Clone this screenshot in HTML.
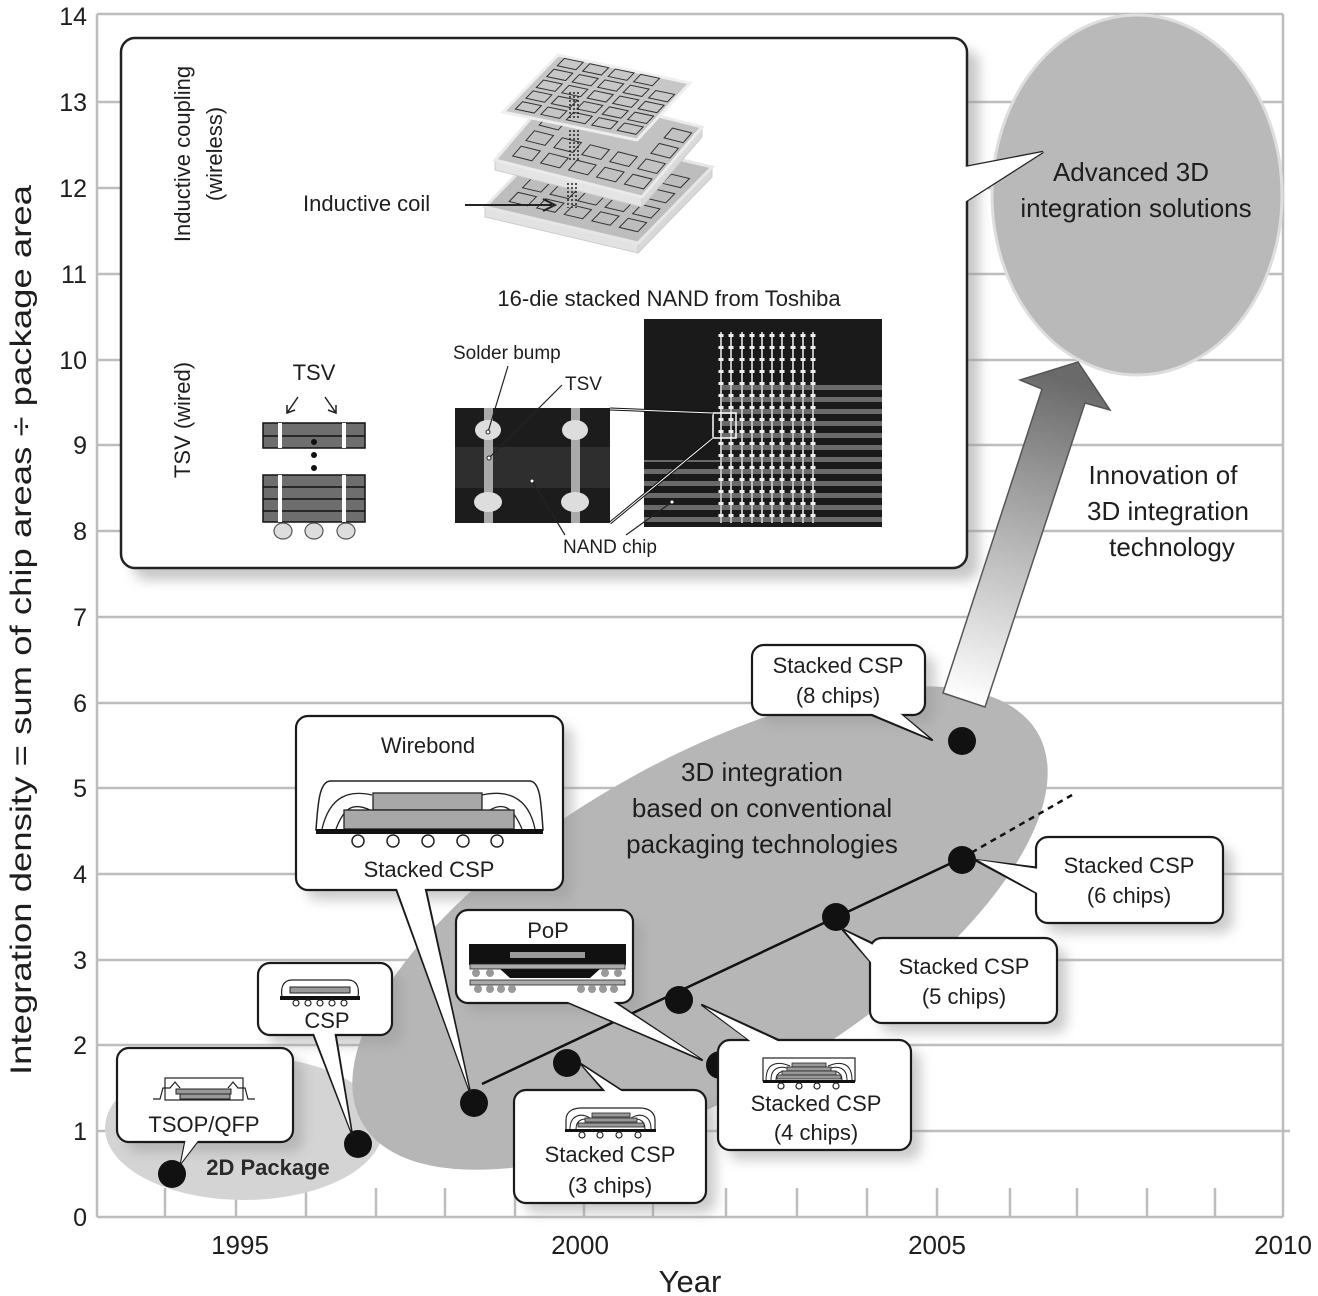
<!DOCTYPE html>
<html><head><meta charset="utf-8"><style>
html,body{margin:0;padding:0;background:#fff}
svg{display:block}
text{font-family:"Liberation Sans",Arial,sans-serif;fill:#1e1e1e}
</style></head><body>
<svg width="1318" height="1296" viewBox="0 0 1318 1296" xmlns="http://www.w3.org/2000/svg">
<defs>
<filter id="sh" x="-20%" y="-20%" width="140%" height="140%"><feGaussianBlur stdDeviation="6"/></filter>
<linearGradient id="ag" gradientUnits="userSpaceOnUse" x1="964" y1="700" x2="1065" y2="380">
<stop offset="0" stop-color="#fff"/><stop offset="1" stop-color="#6a6a6a"/></linearGradient>
</defs>

<!-- grid -->
<g stroke="#bdbdbd" stroke-width="2.5" fill="none">
<line x1="97" y1="14" x2="1283" y2="14"/>
<line x1="97" y1="102" x2="1283" y2="102"/>
<line x1="97" y1="188" x2="1283" y2="188"/>
<line x1="97" y1="274" x2="1283" y2="274"/>
<line x1="97" y1="360" x2="1283" y2="360"/>
<line x1="97" y1="445" x2="1283" y2="445"/>
<line x1="97" y1="531" x2="1283" y2="531"/>
<line x1="97" y1="617" x2="1283" y2="617"/>
<line x1="97" y1="703" x2="1283" y2="703"/>
<line x1="97" y1="788" x2="1283" y2="788"/>
<line x1="97" y1="874" x2="1283" y2="874"/>
<line x1="97" y1="960" x2="1283" y2="960"/>
<line x1="97" y1="1045" x2="1283" y2="1045"/>
<line x1="97" y1="1131" x2="1290" y2="1131"/>
<line x1="97" y1="1217" x2="1283" y2="1217"/>
<line x1="97" y1="14" x2="97" y2="1217"/>
<line x1="1283" y1="14" x2="1283" y2="1217"/>
<path d="M165 1188V1217M236 1188V1217M306 1188V1217M376 1188V1217M445 1188V1217M515 1188V1217M584 1188V1217M653 1188V1217M726 1188V1217M797 1188V1217M867 1188V1217M937 1188V1217M1010 1188V1217M1077 1188V1217M1147 1188V1217M1215 1188V1217"/>
</g>

<!-- axis labels -->
<g font-size="25" text-anchor="end">
<text x="87" y="25">14</text><text x="87" y="111">13</text><text x="87" y="197">12</text>
<text x="87" y="283">11</text><text x="87" y="369">10</text><text x="87" y="454">9</text>
<text x="87" y="540">8</text><text x="87" y="626">7</text><text x="87" y="712">6</text>
<text x="87" y="797">5</text><text x="87" y="883">4</text><text x="87" y="969">3</text>
<text x="87" y="1054">2</text><text x="87" y="1140">1</text><text x="87" y="1226">0</text>
</g>
<g font-size="26" text-anchor="middle">
<text x="240" y="1254">1995</text><text x="580" y="1254">2000</text>
<text x="937" y="1254">2005</text><text x="1283" y="1254">2010</text>
</g>
<text x="690" y="1292" font-size="31" text-anchor="middle">Year</text>
<text transform="translate(31,630) rotate(-90)" font-size="30" text-anchor="middle" textLength="890" lengthAdjust="spacingAndGlyphs">Integration density = sum of chip areas ÷ package area</text>

<!-- 2D package ellipse -->
<ellipse cx="244" cy="1128" rx="139" ry="72" fill="#d4d4d4"/>
<!-- big 3D ellipse -->
<ellipse cx="700" cy="928" rx="390" ry="165" transform="rotate(-30 700 928)" fill="#b6b6b6"/>

<!-- Advanced ellipse -->
<ellipse cx="1137" cy="195" rx="145" ry="180" fill="#b9b9b9" stroke="#dedede" stroke-width="3"/>
<text x="1131" y="181" font-size="26" text-anchor="middle">Advanced 3D</text>
<text x="1136" y="217" font-size="26" text-anchor="middle">integration solutions</text>

<!-- big arrow -->
<polygon points="943,693 1042,389 1020,380 1078,362 1110,410 1085,403 985,707" fill="url(#ag)" stroke="#555" stroke-width="1.5"/>
<g font-size="26" text-anchor="middle">
<text x="1163" y="484">Innovation of</text>
<text x="1168" y="520">3D integration</text>
<text x="1172" y="556">technology</text>
</g>

<!-- inset box -->
<rect x="133" y="50" width="846" height="530" rx="14" fill="#9a9a9a" opacity="0.55" filter="url(#sh)"/>
<polygon points="960,168 1043,152 960,205" fill="#fff" stroke="#222" stroke-width="2.5"/>
<rect x="121" y="38" width="846" height="530" rx="14" fill="#fff" stroke="#222" stroke-width="2.5"/>
<polygon points="960,168 1043,152 960,205" fill="#fff"/>

<g font-size="22">
<text transform="translate(190,154) rotate(-90)" text-anchor="middle">Inductive coupling</text>
<text transform="translate(222,154) rotate(-90)" text-anchor="middle">(wireless)</text>
<text transform="translate(190,420) rotate(-90)" text-anchor="middle">TSV (wired)</text>
</g>

<!-- inductive plates -->
<g>
<polygon points="485,207 638,243 638,253 485,217" fill="#e2e2e2" stroke="#ccc"/>
<polygon points="638,243 712,167 712,177 638,253" fill="#d8d8d8" stroke="#ccc"/>
<polygon points="485,207 559,131 712,167 638,243" fill="#bdbdbd" stroke="#e6e6e6" stroke-width="3"/>
<g transform="matrix(153,36,74,-76,485,207)" fill="none" stroke="#333">
<rect x="0.1" y="0.12" width="0.12" height="0.12" vector-effect="non-scaling-stroke"/><rect x="0.28" y="0.12" width="0.12" height="0.12" vector-effect="non-scaling-stroke"/><rect x="0.46" y="0.12" width="0.12" height="0.12" vector-effect="non-scaling-stroke"/><rect x="0.64" y="0.12" width="0.12" height="0.12" vector-effect="non-scaling-stroke"/><rect x="0.82" y="0.12" width="0.12" height="0.12" vector-effect="non-scaling-stroke"/>
<rect x="0.1" y="0.3" width="0.12" height="0.12" vector-effect="non-scaling-stroke"/><rect x="0.28" y="0.3" width="0.12" height="0.12" vector-effect="non-scaling-stroke"/><rect x="0.46" y="0.3" width="0.12" height="0.12" vector-effect="non-scaling-stroke"/><rect x="0.64" y="0.3" width="0.12" height="0.12" vector-effect="non-scaling-stroke"/><rect x="0.82" y="0.3" width="0.12" height="0.12" vector-effect="non-scaling-stroke"/>
<rect x="0.82" y="0.5" width="0.12" height="0.12" vector-effect="non-scaling-stroke"/><rect x="0.82" y="0.7" width="0.12" height="0.12" vector-effect="non-scaling-stroke"/>
</g>
<polygon points="495,160 642,197 642,207 495,170" fill="#e4e4e4" stroke="#ccc"/>
<polygon points="642,197 702,127 702,137 642,207" fill="#dadada" stroke="#ccc"/>
<polygon points="495,160 555,90 702,127 642,197" fill="#c2c2c2" stroke="#ebebeb" stroke-width="3"/>
<g transform="matrix(147,37,60,-70,495,160)" fill="none" stroke="#333">
<rect x="0.08" y="0.1" width="0.13" height="0.14" vector-effect="non-scaling-stroke"/><rect x="0.27" y="0.1" width="0.13" height="0.14" vector-effect="non-scaling-stroke"/><rect x="0.46" y="0.1" width="0.13" height="0.14" vector-effect="non-scaling-stroke"/><rect x="0.65" y="0.1" width="0.13" height="0.14" vector-effect="non-scaling-stroke"/><rect x="0.84" y="0.1" width="0.13" height="0.14" vector-effect="non-scaling-stroke"/>
<rect x="0.08" y="0.32" width="0.13" height="0.14" vector-effect="non-scaling-stroke"/><rect x="0.27" y="0.32" width="0.13" height="0.14" vector-effect="non-scaling-stroke"/><rect x="0.46" y="0.32" width="0.13" height="0.14" vector-effect="non-scaling-stroke"/><rect x="0.65" y="0.32" width="0.13" height="0.14" vector-effect="non-scaling-stroke"/><rect x="0.84" y="0.32" width="0.13" height="0.14" vector-effect="non-scaling-stroke"/>
<rect x="0.08" y="0.54" width="0.13" height="0.14" vector-effect="non-scaling-stroke"/><rect x="0.84" y="0.54" width="0.13" height="0.14" vector-effect="non-scaling-stroke"/><rect x="0.84" y="0.76" width="0.13" height="0.14" vector-effect="non-scaling-stroke"/>
</g>
<polygon points="503,112 558,55 690,83 637,140" fill="#c6c6c6" stroke="#efefef" stroke-width="3" opacity="0.97"/>
<g transform="matrix(134,28,55,-57,503,112)" fill="none" stroke="#333">
<rect x="0.06" y="0.08" width="0.14" height="0.13" vector-effect="non-scaling-stroke"/><rect x="0.25" y="0.08" width="0.14" height="0.13" vector-effect="non-scaling-stroke"/><rect x="0.44" y="0.08" width="0.14" height="0.13" vector-effect="non-scaling-stroke"/><rect x="0.63" y="0.08" width="0.14" height="0.13" vector-effect="non-scaling-stroke"/><rect x="0.82" y="0.08" width="0.14" height="0.13" vector-effect="non-scaling-stroke"/>
<rect x="0.06" y="0.27" width="0.14" height="0.13" vector-effect="non-scaling-stroke"/><rect x="0.25" y="0.27" width="0.14" height="0.13" vector-effect="non-scaling-stroke"/><rect x="0.44" y="0.27" width="0.14" height="0.13" vector-effect="non-scaling-stroke"/><rect x="0.63" y="0.27" width="0.14" height="0.13" vector-effect="non-scaling-stroke"/><rect x="0.82" y="0.27" width="0.14" height="0.13" vector-effect="non-scaling-stroke"/>
<rect x="0.06" y="0.46" width="0.14" height="0.13" vector-effect="non-scaling-stroke"/><rect x="0.25" y="0.46" width="0.14" height="0.13" vector-effect="non-scaling-stroke"/><rect x="0.44" y="0.46" width="0.14" height="0.13" vector-effect="non-scaling-stroke"/><rect x="0.63" y="0.46" width="0.14" height="0.13" vector-effect="non-scaling-stroke"/><rect x="0.82" y="0.46" width="0.14" height="0.13" vector-effect="non-scaling-stroke"/>
<rect x="0.06" y="0.65" width="0.14" height="0.13" vector-effect="non-scaling-stroke"/><rect x="0.25" y="0.65" width="0.14" height="0.13" vector-effect="non-scaling-stroke"/><rect x="0.44" y="0.65" width="0.14" height="0.13" vector-effect="non-scaling-stroke"/><rect x="0.63" y="0.65" width="0.14" height="0.13" vector-effect="non-scaling-stroke"/><rect x="0.82" y="0.65" width="0.14" height="0.13" vector-effect="non-scaling-stroke"/>
<rect x="0.06" y="0.84" width="0.14" height="0.13" vector-effect="non-scaling-stroke"/><rect x="0.25" y="0.84" width="0.14" height="0.13" vector-effect="non-scaling-stroke"/><rect x="0.44" y="0.84" width="0.14" height="0.13" vector-effect="non-scaling-stroke"/><rect x="0.63" y="0.84" width="0.14" height="0.13" vector-effect="non-scaling-stroke"/>
</g>
<g stroke="#222" stroke-width="1.5" stroke-dasharray="2,2">
<line x1="570" y1="92" x2="570" y2="120"/><line x1="574" y1="92" x2="574" y2="120"/><line x1="578" y1="92" x2="578" y2="120"/>
<line x1="570" y1="130" x2="570" y2="162"/><line x1="574" y1="130" x2="574" y2="162"/><line x1="578" y1="130" x2="578" y2="162"/>
<line x1="568" y1="183" x2="568" y2="208"/><line x1="572" y1="183" x2="572" y2="208"/><line x1="576" y1="183" x2="576" y2="208"/>
</g>
</g>
<text x="303" y="211" font-size="22">Inductive coil</text>
<line x1="465" y1="205" x2="552" y2="205" stroke="#222" stroke-width="2"/>
<path d="M543 199 L555 205 L543 211" fill="none" stroke="#222" stroke-width="2"/>

<!-- TSV diagram -->
<text x="314" y="380" font-size="22" text-anchor="middle">TSV</text>
<g stroke="#222" stroke-width="1.5" fill="none">
<path d="M298 397 L287 413 M287 405 L287 413 L295 410"/>
<path d="M325 397 L336 413 M336 405 L336 413 L328 410"/>
</g>
<rect x="263" y="423" width="102" height="25" fill="#6e6e6e" stroke="#111" stroke-width="1.5"/>
<line x1="263" y1="436" x2="365" y2="436" stroke="#111" stroke-width="1.5"/>
<rect x="263" y="475" width="102" height="47" fill="#6e6e6e" stroke="#111" stroke-width="1.5"/>
<line x1="263" y1="487" x2="365" y2="487" stroke="#111" stroke-width="1.5"/>
<line x1="263" y1="499" x2="365" y2="499" stroke="#111" stroke-width="1.5"/>
<line x1="263" y1="511" x2="365" y2="511" stroke="#111" stroke-width="1.5"/>
<rect x="278" y="423" width="4" height="25" fill="#fff"/><rect x="342" y="423" width="4" height="25" fill="#fff"/>
<rect x="278" y="475" width="4" height="47" fill="#fff"/><rect x="342" y="475" width="4" height="47" fill="#fff"/>
<circle cx="314" cy="442" r="3" fill="#111"/><circle cx="314" cy="455" r="3" fill="#111"/><circle cx="314" cy="468" r="3" fill="#111"/>
<g fill="#ddd" stroke="#555" stroke-width="1.2">
<ellipse cx="283" cy="531" rx="9" ry="8"/><ellipse cx="314" cy="531" rx="9" ry="8"/><ellipse cx="346" cy="531" rx="9" ry="8"/>
</g>

<!-- NAND photos -->
<text x="669" y="306" font-size="22" text-anchor="middle">16-die stacked NAND from Toshiba</text>
<rect x="455" y="408" width="155" height="115" fill="#1c1c1c"/>
<rect x="455" y="447" width="155" height="41" fill="#2e2e2e"/>
<g fill="#aaa"><rect x="484" y="408" width="9" height="115"/><rect x="571" y="408" width="9" height="115"/></g>
<g fill="#ddd"><ellipse cx="488" cy="430" rx="13" ry="10"/><ellipse cx="488" cy="502" rx="14" ry="10"/><ellipse cx="575" cy="430" rx="13" ry="10"/><ellipse cx="575" cy="502" rx="14" ry="10"/></g>
<rect x="644" y="319" width="238" height="208" fill="#1a1a1a"/>
<g fill="#6a6a6a">
<rect x="644" y="385" width="238" height="5"/><rect x="644" y="397" width="238" height="5"/><rect x="644" y="409" width="238" height="5"/><rect x="644" y="421" width="238" height="5"/><rect x="644" y="433" width="238" height="5"/><rect x="644" y="445" width="238" height="5"/><rect x="644" y="457" width="238" height="5"/><rect x="644" y="469" width="238" height="5"/><rect x="644" y="481" width="238" height="5"/><rect x="644" y="493" width="238" height="5"/><rect x="644" y="505" width="238" height="5"/><rect x="644" y="517" width="238" height="5"/>
</g>
<rect x="644" y="380" width="76" height="80" fill="#1a1a1a"/>
<g stroke="#bbb" stroke-width="2">
<line x1="721" y1="332" x2="721" y2="523"/><line x1="731" y1="332" x2="731" y2="523"/><line x1="742" y1="332" x2="742" y2="523"/><line x1="752" y1="332" x2="752" y2="523"/><line x1="762" y1="332" x2="762" y2="523"/><line x1="772" y1="332" x2="772" y2="523"/><line x1="782" y1="332" x2="782" y2="523"/><line x1="793" y1="332" x2="793" y2="523"/><line x1="803" y1="332" x2="803" y2="523"/><line x1="813" y1="332" x2="813" y2="523"/>
</g>
<g stroke="#eee" stroke-width="5" stroke-dasharray="3,9">
<line x1="721" y1="334" x2="721" y2="523"/><line x1="731" y1="334" x2="731" y2="523"/><line x1="742" y1="334" x2="742" y2="523"/><line x1="752" y1="334" x2="752" y2="523"/><line x1="762" y1="334" x2="762" y2="523"/><line x1="772" y1="334" x2="772" y2="523"/><line x1="782" y1="334" x2="782" y2="523"/><line x1="793" y1="334" x2="793" y2="523"/><line x1="803" y1="334" x2="803" y2="523"/><line x1="813" y1="334" x2="813" y2="523"/>
</g>
<rect x="713" y="413" width="23" height="25" fill="none" stroke="#fff" stroke-width="1.5"/>
<g stroke="#111" stroke-width="3"><line x1="610" y1="409" x2="713" y2="413"/><line x1="610" y1="523" x2="713" y2="438"/></g>
<g stroke="#fff" stroke-width="1"><line x1="610" y1="409" x2="713" y2="413"/><line x1="610" y1="523" x2="713" y2="438"/></g>
<text x="453" y="359" font-size="19">Solder bump</text>
<text x="565" y="390" font-size="19">TSV</text>
<text x="610" y="553" font-size="19" text-anchor="middle">NAND chip</text>
<g stroke="#222" stroke-width="1.2" fill="none">
<line x1="508" y1="366" x2="488" y2="432"/><line x1="562" y1="385" x2="489" y2="458"/>
<line x1="565" y1="535" x2="532" y2="481"/><line x1="626" y1="535" x2="672" y2="502"/>
</g>
<g fill="#fff" stroke="#222" stroke-width="1"><circle cx="488" cy="432" r="2"/><circle cx="489" cy="458" r="2"/><circle cx="532" cy="481" r="2"/><circle cx="672" cy="502" r="2"/></g>

<!-- callout shadows -->
<g fill="#999" opacity="0.5" filter="url(#sh)">
<rect x="306" y="726" width="267" height="174" rx="12"/>
<rect x="762" y="655" width="173" height="70" rx="12"/>
<rect x="1046" y="847" width="187" height="86" rx="12"/>
<rect x="880" y="948" width="187" height="85" rx="12"/>
<rect x="728" y="1050" width="193" height="110" rx="12"/>
<rect x="524" y="1100" width="192" height="113" rx="12"/>
<rect x="466" y="920" width="177" height="93" rx="12"/>
<rect x="268" y="973" width="134" height="72" rx="12"/>
<rect x="127" y="1058" width="176" height="94" rx="12"/>
</g>

<!-- line & dots -->
<line x1="482" y1="1084" x2="962" y2="858" stroke="#111" stroke-width="2.5"/>
<line x1="962" y1="858" x2="1072" y2="795" stroke="#111" stroke-width="2.5" stroke-dasharray="6,5"/>
<g fill="#111">
<circle cx="172" cy="1174" r="14"/><circle cx="358" cy="1144" r="14"/><circle cx="474" cy="1103" r="14"/>
<circle cx="567" cy="1063" r="14"/><circle cx="679" cy="1000" r="14"/><circle cx="720" cy="1065" r="14"/>
<circle cx="836" cy="917" r="14"/><circle cx="962" cy="860" r="14"/><circle cx="962" cy="741" r="14"/>
</g>

<!-- callouts -->
<g fill="#fff" stroke="#1a1a1a" stroke-width="2.2" stroke-linejoin="round">
<polygon points="186,1138 181,1163 200,1138"/>
<rect x="117" y="1048" width="176" height="94" rx="12"/>
<polygon points="312,1031 352,1134 335,1031"/>
<rect x="258" y="963" width="134" height="72" rx="12"/>
<polygon points="395,886 470,1092 425,886"/>
<rect x="296" y="716" width="267" height="174" rx="12"/>
<polygon points="560,999 702,1060 610,999"/>
<rect x="456" y="910" width="177" height="93" rx="12"/>
<polygon points="607,1094 581,1064 627,1094"/>
<rect x="514" y="1090" width="192" height="113" rx="12"/>
<polygon points="752,1042 702,1005 783,1042"/>
<rect x="718" y="1040" width="193" height="110" rx="12"/>
<polygon points="876,945 842,929 876,968"/>
<rect x="870" y="938" width="187" height="85" rx="12"/>
<polygon points="1040,868 975,860 1040,895"/>
<rect x="1036" y="837" width="187" height="86" rx="12"/>
<polygon points="862,711 932,740 897,711"/>
<rect x="752" y="645" width="173" height="70" rx="12"/>
</g>
<g fill="#fff">
<polygon points="186,1138 181,1163 200,1138"/>
<polygon points="313,1031 351,1131 334,1031"/>
<polygon points="396,886 469,1089 424,886"/>
<polygon points="561,999 699,1058 609,999"/>
<polygon points="608,1094 583,1066 626,1094"/>
<polygon points="753,1043 705,1007 782,1043"/>
<polygon points="875,946 845,931 875,967"/>
<polygon points="1039,869 978,860 1039,894"/>
<polygon points="863,710 929,738 896,710"/>
</g>

<!-- callout texts -->
<g font-size="22" text-anchor="middle">
<text x="204" y="1132">TSOP/QFP</text>
<text x="327" y="1028">CSP</text>
<text x="428" y="753">Wirebond</text>
<text x="429" y="877">Stacked CSP</text>
<text x="548" y="938">PoP</text>
<text x="610" y="1162">Stacked CSP</text>
<text x="610" y="1193">(3 chips)</text>
<text x="816" y="1111">Stacked CSP</text>
<text x="816" y="1140">(4 chips)</text>
<text x="964" y="974">Stacked CSP</text>
<text x="964" y="1004">(5 chips)</text>
<text x="1129" y="873">Stacked CSP</text>
<text x="1129" y="903">(6 chips)</text>
<text x="838" y="673">Stacked CSP</text>
<text x="838" y="703">(8 chips)</text>
</g>
<text x="268" y="1175" font-size="22" font-weight="bold" text-anchor="middle" style="fill:#2a2a2a">2D Package</text>
<g font-size="26" text-anchor="middle" style="fill:#2a2a2a">
<text x="762" y="781">3D integration</text>
<text x="762" y="817">based on conventional</text>
<text x="762" y="853">packaging technologies</text>
</g>

<!-- icons -->
<g stroke="#222" stroke-width="1.2" fill="none">
<rect x="165" y="1078" width="78" height="22"/>
<path d="M153 1099 H160 L163 1088 H170 L175 1082 L180 1088 M255 1099 H248 L245 1088 H238 L233 1082 L228 1088"/>
</g>
<rect x="176" y="1089" width="55" height="5" fill="#999" stroke="#222"/>
<rect x="180" y="1094" width="50" height="5" fill="#999" stroke="#222"/>
<path d="M282 997 C280 985 285 980 292 980 H348 C355 980 360 985 358 997 Z" fill="#fff" stroke="#222" stroke-width="1.2"/>
<rect x="290" y="987" width="60" height="6" fill="#999" stroke="#222"/>
<rect x="280" y="996" width="80" height="4" fill="#111"/>
<g fill="#fff" stroke="#222" stroke-width="1.2"><circle cx="296" cy="1003" r="3"/><circle cx="308" cy="1003" r="3"/><circle cx="320" cy="1003" r="3"/><circle cx="332" cy="1003" r="3"/><circle cx="344" cy="1003" r="3"/></g>
<path d="M316 830 C318 800 320 782 330 781 H530 C540 782 541 800 543 830 Z" fill="#fff" stroke="#222" stroke-width="1.5"/>
<path d="M322 829 C330 795 350 790 372 795 M336 829 C345 805 355 803 370 810 M535 829 C528 795 505 790 482 795 M522 829 C512 805 502 803 490 810" fill="none" stroke="#222" stroke-width="1.3"/>
<rect x="373" y="793" width="109" height="17" fill="#a8a8a8" stroke="#222" stroke-width="1.3"/>
<rect x="344" y="810" width="170" height="19" fill="#a8a8a8" stroke="#222" stroke-width="1.3"/>
<rect x="316" y="829" width="227" height="5" fill="#111"/>
<g fill="#fff" stroke="#222" stroke-width="1.5"><circle cx="358" cy="841" r="6"/><circle cx="393" cy="841" r="6"/><circle cx="428" cy="841" r="6"/><circle cx="463" cy="841" r="6"/><circle cx="497" cy="841" r="6"/></g>
<rect x="469" y="944" width="157" height="21" fill="#111"/>
<rect x="510" y="952" width="75" height="6" fill="#999"/>
<rect x="470" y="964" width="155" height="5" fill="#aaa" stroke="#222" stroke-width="0.8"/>
<path d="M500 969 L510 978 H590 L600 969 Z" fill="#111"/>
<rect x="470" y="980" width="155" height="5" fill="#aaa" stroke="#222" stroke-width="0.8"/>
<g fill="#999"><circle cx="476" cy="973" r="4"/><circle cx="490" cy="973" r="4"/><circle cx="605" cy="973" r="4"/><circle cx="618" cy="973" r="4"/>
<circle cx="478" cy="989" r="4"/><circle cx="490" cy="989" r="4"/><circle cx="501" cy="989" r="4"/><circle cx="512" cy="989" r="4"/><circle cx="581" cy="989" r="4"/><circle cx="592" cy="989" r="4"/><circle cx="603" cy="989" r="4"/><circle cx="614" cy="989" r="4"/></g>
<path d="M566 1130 V1120 C566 1110 575 1108 582 1108 H640 C648 1108 655 1112 655 1120 V1130 Z" fill="#fff" stroke="#222" stroke-width="1.2"/>
<path d="M570 1129 C570 1116 580 1112 590 1118 M576 1129 C576 1120 584 1116 592 1122 M651 1129 C651 1116 641 1112 631 1118 M645 1129 C645 1120 637 1116 629 1122" fill="none" stroke="#222" stroke-width="1"/>
<rect x="592" y="1113" width="38" height="4" fill="#999" stroke="#222" stroke-width="0.8"/>
<rect x="585" y="1118" width="52" height="4" fill="#999" stroke="#222" stroke-width="0.8"/>
<rect x="578" y="1123" width="66" height="4" fill="#999" stroke="#222" stroke-width="0.8"/>
<rect x="565" y="1129" width="91" height="3" fill="#111"/>
<g fill="#fff" stroke="#222" stroke-width="1.2"><circle cx="582" cy="1135" r="3"/><circle cx="600" cy="1135" r="3"/><circle cx="619" cy="1135" r="3"/><circle cx="638" cy="1135" r="3"/></g>
<rect x="763" y="1058" width="92" height="23" fill="#fff" stroke="#222" stroke-width="1.2"/>
<path d="M766 1080 C766 1064 776 1060 790 1066 M771 1080 C771 1068 780 1064 792 1070 M776 1080 C776 1072 784 1068 794 1074 M852 1080 C852 1064 842 1060 828 1066 M847 1080 C847 1068 838 1064 826 1070 M842 1080 C842 1072 834 1068 824 1074" fill="none" stroke="#222" stroke-width="1"/>
<rect x="792" y="1063" width="34" height="4" fill="#999" stroke="#222" stroke-width="0.8"/>
<rect x="787" y="1067" width="44" height="4" fill="#999" stroke="#222" stroke-width="0.8"/>
<rect x="782" y="1071" width="54" height="4" fill="#999" stroke="#222" stroke-width="0.8"/>
<rect x="777" y="1075" width="64" height="4" fill="#999" stroke="#222" stroke-width="0.8"/>
<rect x="763" y="1080" width="92" height="3" fill="#111"/>
<g fill="#fff" stroke="#222" stroke-width="1.2"><circle cx="781" cy="1086" r="3"/><circle cx="799" cy="1086" r="3"/><circle cx="817" cy="1086" r="3"/><circle cx="836" cy="1086" r="3"/></g>
</svg>
</body></html>
